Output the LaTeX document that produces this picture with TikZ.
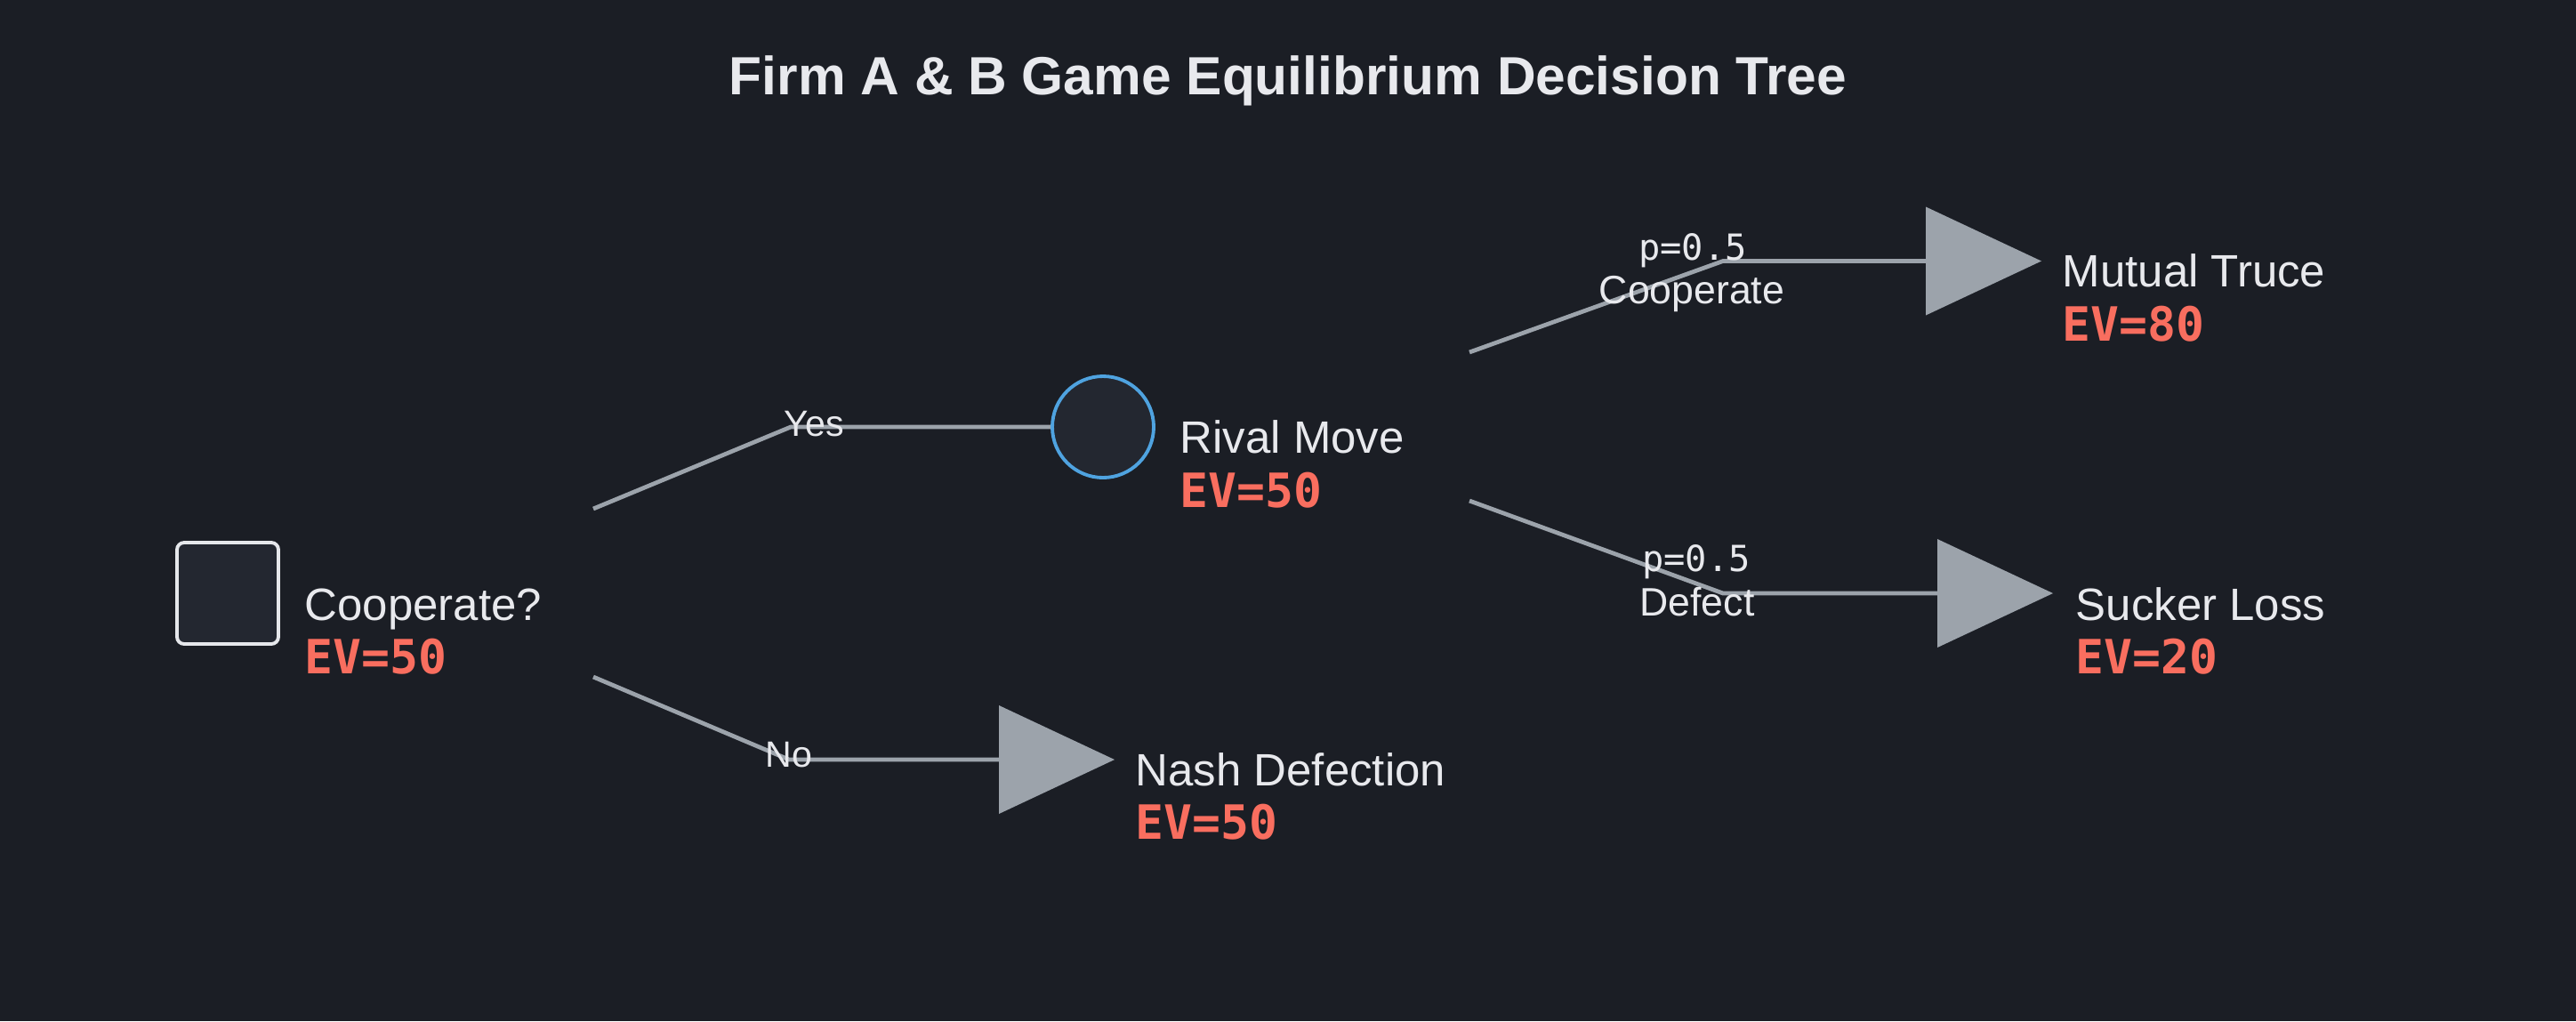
\documentclass[tikz,border=0pt]{standalone}
\usepackage{fontspec}
\setmainfont{Liberation Sans}
\newfontfamily\evfont{DejaVu Sans Mono}
\usetikzlibrary{shapes.geometric}
\definecolor{bgdark}{HTML}{1B1E25}
\definecolor{nodefill}{HTML}{232730}
\definecolor{sqedge}{HTML}{E5E7EB}
\definecolor{chanceblue}{HTML}{4FA3E0}
\definecolor{edgegray}{HTML}{9CA3AB}
\definecolor{labelwhite}{HTML}{E8E9ED}
\definecolor{evred}{HTML}{F96E5F}
\begin{document}
\begin{tikzpicture}[scale=1.0,
  decision/.style={draw=sqedge, fill=nodefill, line width=1.1pt, rounded corners=0.08cm, minimum size=1.14cm, inner sep=0pt},
  chance/.style={circle, draw=chanceblue, fill=nodefill, line width=1.1pt, minimum size=1.14cm, inner sep=0pt},
  leaf/.style={isosceles triangle, isosceles triangle stretches, fill=edgegray, inner sep=0pt, outer sep=0pt, minimum width=1.22cm, minimum height=1.30cm},
  branch/.style={draw=edgegray, line width=1.35pt},
  nodetext/.style={anchor=base west, inner sep=0pt, text=labelwhite, font=\fontsize{14.5}{16}\selectfont},
  ev/.style={anchor=base west, inner sep=0pt, text=evred, font=\evfont\bfseries\fontsize{15.1}{17}\selectfont},
  yesno/.style={anchor=base, inner sep=0pt, text=labelwhite, font=\fontsize{11.7}{13}\selectfont},
  prob/.style={anchor=base, inner sep=0pt, text=labelwhite, font=\evfont\fontsize{11.5}{13}\selectfont},
  move/.style={anchor=base, inner sep=0pt, text=labelwhite, font=\fontsize{12.7}{14}\selectfont}]
\fill[bgdark] (0,0) rectangle (28.96,-11.48);
\useasboundingbox (0,0) rectangle (28.96,-11.48);
\node[anchor=base, text=labelwhite, font=\bfseries\fontsize{17.2}{20}\selectfont] (title) at (14.48,-1.06) {Firm A \& B Game Equilibrium Decision Tree};

\node[decision] (coop) at (2.56,-6.67) {};
\node[chance] (rival) at (12.40,-4.80) {};
\node[leaf, anchor=west] (nash) at (11.23,-8.54) {};
\node[leaf, anchor=west] (truce) at (21.65,-2.935) {};
\node[leaf, anchor=west] (sucker) at (21.78,-6.67) {};

\node[nodetext] (coopname) at (3.42,-6.97) {Cooperate?};
\node[ev] (coopev) at (3.42,-7.57) {EV=50};
\node[nodetext] (rivalname) at (13.26,-5.09) {Rival Move};
\node[ev] (rivalev) at (13.26,-5.70) {EV=50};
\node[nodetext] (nashname) at (12.76,-8.83) {Nash Defection};
\node[ev] (nashev) at (12.76,-9.43) {EV=50};
\node[nodetext] (trucename) at (23.18,-3.22) {Mutual Truce};
\node[ev] (truceev) at (23.18,-3.83) {EV=80};
\node[nodetext] (suckername) at (23.33,-6.97) {Sucker Loss};
\node[ev] (suckerev) at (23.33,-7.57) {EV=20};

\coordinate (yesfrom) at (6.67,-5.72);
\coordinate (yesbend) at (8.89,-4.80);
\coordinate (nofrom) at (6.67,-7.61);
\coordinate (nobend) at (8.87,-8.54);
\coordinate (cfrom) at (16.52,-3.96);
\coordinate (cbend) at (19.37,-2.935);
\coordinate (dfrom) at (16.52,-5.63);
\coordinate (dbend) at (19.37,-6.67);
\draw[branch] (yesfrom) -- (yesbend) -- (rival.west);
\draw[branch] (nofrom) -- (nobend) -- (nash.west);
\draw[branch] (cfrom) -- (cbend) -- (truce.west);
\draw[branch] (dfrom) -- (dbend) -- (sucker.west);

\node[yesno] (yes) at (9.15,-4.90) {Yes};
\node[yesno] (no) at (8.87,-8.62) {No};
\node[prob] (cprob) at (19.03,-2.92) {p=0.5};
\node[move] (cmove) at (19.02,-3.41) {Cooperate};
\node[prob] (dprob) at (19.07,-6.42) {p=0.5};
\node[move] (dmove) at (19.08,-6.92) {Defect};
\end{tikzpicture}
\end{document}
